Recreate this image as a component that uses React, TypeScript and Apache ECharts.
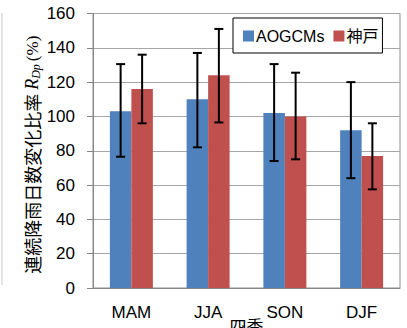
import React, { useEffect, useRef } from "react";
import * as echarts from "echarts";

const categories = ["MAM", "JJA", "SON", "DJF"];
const aogcmValues = [103, 110, 102, 92];
const aogcmLow = [76.5, 82, 74, 64];
const aogcmHigh = [130.5, 137, 130.5, 120];
const kobeValues = [116, 124, 100, 77];
const kobeLow = [96, 96.5, 75, 57.5];
const kobeHigh = [136, 151, 125.5, 96];
const seriesNames = ["AOGCMs", "神戸"];

const FONT = "'Liberation Sans', 'Noto Sans CJK JP', sans-serif";
const CJK = "'Noto Sans CJK JP', sans-serif";
const SERIF = "'Liberation Serif', 'DejaVu Serif', serif";
const GAP_RATIO = 0.56;

function errorSeries(low: number[], high: number[], side: number) {
  return {
    type: "custom",
    z: 10,
    silent: true,
    encode: { x: 0, y: [1, 2] },
    data: low.map((l, i) => [i, l, high[i]]),
    renderItem: (params: any, api: any) => {
      const idx = api.value(0);
      const lo = api.value(1);
      const hi = api.value(2);
      const band = api.size([1, 0])[0];
      const bw = (band * GAP_RATIO) / 2;
      const pLo = api.coord([idx, lo]);
      const pHi = api.coord([idx, hi]);
      const cx = pLo[0] + (side * bw) / 2;
      const cap = 4.5;
      const style = { stroke: "#000", lineWidth: 2 };
      return {
        type: "group",
        children: [
          { type: "line", shape: { x1: cx, y1: pLo[1], x2: cx, y2: pHi[1] }, style },
          { type: "line", shape: { x1: cx - cap, y1: pHi[1], x2: cx + cap, y2: pHi[1] }, style },
          { type: "line", shape: { x1: cx - cap, y1: pLo[1], x2: cx + cap, y2: pLo[1] }, style },
        ],
      };
    },
  };
}

export default function App() {
  const ref = useRef<HTMLDivElement>(null);
  useEffect(() => {
    if (!ref.current) return;
    const chart = echarts.init(ref.current, null, { renderer: "svg" });
    chart.setOption({
      animation: false,
      backgroundColor: "#fff",
      grid: {
        left: 93,
        right: 7,
        top: 13.5,
        bottom: 40,
        show: true,
        borderColor: "#8c8c8c",
        borderWidth: 1,
        outerBoundsMode: "none",
        containLabel: false,
      },
      legend: {
        left: 233,
        top: 18,
        padding: [10, 4, 9, 10],
        itemGap: 9,
        itemWidth: 11,
        itemHeight: 11,
        icon: "rect",
        backgroundColor: "#fff",
        borderColor: "#000",
        borderWidth: 1,
        textStyle: { fontFamily: FONT, fontSize: 16, color: "#000", padding: [0, 0, 0, -3] },
        data: seriesNames,
      },
      graphic: [
        {
          type: "line",
          shape: { x1: 2, y1: 13, x2: 2, y2: 285 },
          style: { stroke: "#c8c8c8", lineWidth: 1 },
        },
      ],
      xAxis: {
        type: "category",
        data: categories,
        name: "四季",
        nameLocation: "middle",
        nameGap: 29,
        nameMoveOverlap: false,
        nameTextStyle: { fontFamily: CJK, fontSize: 17, color: "#000", verticalAlign: "top" },
        axisLine: { show: true, lineStyle: { color: "#868686" } },
        axisTick: { show: false },
        axisLabel: { fontFamily: FONT, fontSize: 17, color: "#000", margin: 16 },
      },
      yAxis: {
        type: "value",
        min: 0,
        max: 160,
        interval: 20,
        name: "{a|連続降雨日数変化比率 }{r|R}{s|Dp}{p|(%)}",
        nameLocation: "middle",
        nameRotate: 90,
        nameGap: 51,
        nameMoveOverlap: false,
        nameTextStyle: {
          rich: {
            a: { fontFamily: CJK, fontSize: 18, color: "#000" },
            r: { fontFamily: SERIF, fontSize: 18, fontStyle: "italic", color: "#000" },
            s: { fontFamily: SERIF, fontSize: 12, fontStyle: "italic", color: "#000", verticalAlign: "bottom", padding: [8, 3, 0, 0] },
            p: { fontFamily: SERIF, fontSize: 17, color: "#000", padding: [0, 8, 0, 0] },
          },
        },
        axisLine: { show: true, lineStyle: { color: "#868686" } },
        axisTick: { show: true, length: 6, lineStyle: { color: "#868686" } },
        axisLabel: { fontFamily: FONT, fontSize: 17, color: "#000", margin: 18 },
        splitLine: { show: true, lineStyle: { color: "#a6a6a6", width: 1 } },
      },
      series: [
        {
          name: seriesNames[0],
          type: "bar",
          data: aogcmValues,
          barGap: "0%",
          barCategoryGap: "44%",
          itemStyle: { color: "#4F81BD" },
        },
        {
          name: seriesNames[1],
          type: "bar",
          data: kobeValues,
          barGap: "0%",
          barCategoryGap: "44%",
          itemStyle: { color: "#C0504D" },
        },
        errorSeries(aogcmLow, aogcmHigh, -1),
        errorSeries(kobeLow, kobeHigh, 1),
      ],
    });
    return () => chart.dispose();
  }, []);
  return (
    <div
      ref={ref}
      style={{ position: "fixed", left: 0, top: 0, width: 407, height: 328 }}
    />
  );
}
